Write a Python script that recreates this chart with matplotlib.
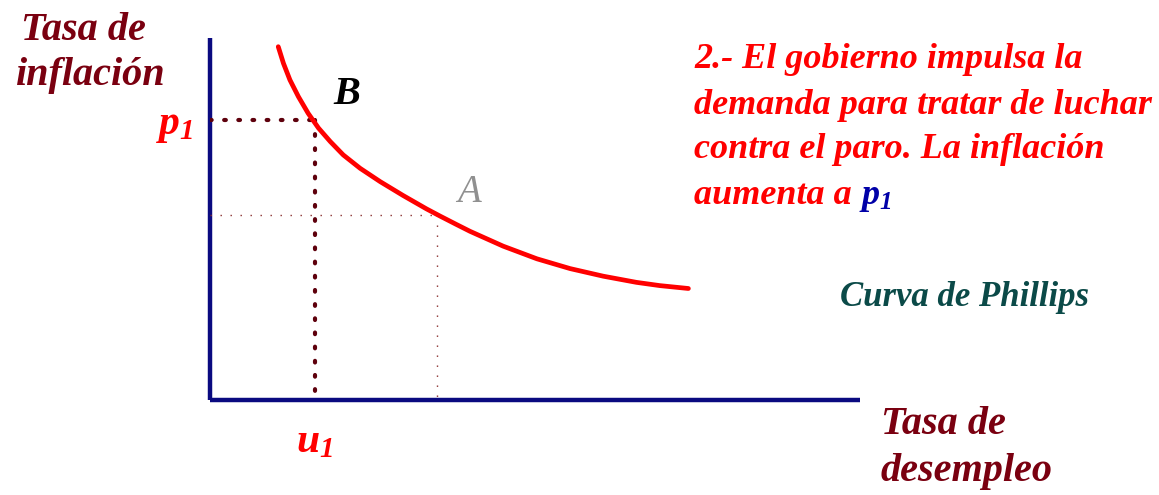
import matplotlib.pyplot as plt

plt.rcParams['font.family'] = ['Liberation Serif', 'DejaVu Serif']
plt.rcParams['mathtext.fontset'] = 'custom'
plt.rcParams['mathtext.it'] = 'Liberation Serif:italic:bold'
plt.rcParams['mathtext.rm'] = 'Liberation Serif:italic:bold'

# Phillips curve (x = unemployment, y = inflation, 0-100 scale)
desempleo = [10.5, 11.3, 12.3, 13.6, 15.1, 16.7, 18.5, 20.5, 23.1, 26.2, 29.7,
             33.3, 35.4, 37.9, 40.0, 45.1, 50.3, 55.4, 60.5, 65.6, 69.2, 73.6]
inflacion = [97.6, 93.0, 88.4, 83.8, 79.2, 75.1, 71.4, 67.7, 64.0, 60.3, 56.5,
             52.8, 50.8, 48.5, 46.6, 42.5, 39.0, 36.3, 34.2, 32.5, 31.6, 30.8]

punto_a = (34.9, 51.2)
punto_b = (16.2, 77.3)

W, H = 1159, 495
fig = plt.figure(figsize=(W / 100, H / 100), dpi=100)
ax = fig.add_axes([210 / W, 1 - 400 / H, 650 / W, 362 / H])
ax.set_xlim(0, 100)
ax.set_ylim(0, 100)
ax.axis('off')

navy = '#0a0a80'
ax.plot([0, 0], [0, 100], color=navy, lw=3.2, solid_capstyle='butt', clip_on=False)
ax.plot([0, 100], [0, 0], color=navy, lw=3.2, solid_capstyle='butt', clip_on=False)

# dotted guide lines
gruesa = dict(color='#5e000c', lw=3.0, linestyle=(0, (0.4, 3.0)), dash_capstyle='round')
fina = dict(color='#8a3030', lw=1.0, linestyle=(0, (1, 6.2)))
ax.plot([0, punto_b[0]], [punto_b[1], punto_b[1]], **gruesa)
ax.plot([punto_b[0], punto_b[0]], [punto_b[1], 0], **gruesa)
ax.plot([0, punto_a[0]], [punto_a[1], punto_a[1]], **fina)
ax.plot([punto_a[0], punto_a[0]], [punto_a[1], 0], **fina)

ax.plot(desempleo, inflacion, color='#ff0000', lw=3.4, solid_capstyle='round',
        solid_joinstyle='round')


def px(x, y, s, **kw):
    fig.text(x / W, 1 - y / H, s, **kw)


dark_red = '#7a0010'
bi = dict(fontweight='bold', fontstyle='italic')
px(83, 30, 'Tasa de', color=dark_red, ha='center', va='center', fontsize=29, **bi)
px(91, 76, 'inflación', color=dark_red, ha='center', va='center', fontsize=29, **bi)
px(943, 425, 'Tasa de', color=dark_red, ha='center', va='center', fontsize=29, **bi)
px(967, 472, 'desempleo', color=dark_red, ha='center', va='center', fontsize=29, **bi)

px(193, 126, r'$p_1$', color='#ff0000', ha='right', va='center', fontsize=30)
px(314, 442, r'$u_1$', color='#ff0000', ha='center', va='center', fontsize=30)
px(347, 95, 'B', color='black', ha='center', va='center', fontsize=29, **bi)
px(469, 192, 'A', color='#909090', ha='center', va='center', fontsize=28, fontstyle='italic')

nota = ['2.- El gobierno impulsa la',
        'demanda para tratar de luchar',
        'contra el paro. La inflación',
        'aumenta a']
for i, linea in enumerate(nota):
    px(694, 60 + 45 * i, linea, color='#ff0000', ha='left', va='center', fontsize=26, **bi)
px(859, 198, r'$p_1$', color='#0000a8', ha='left', va='center', fontsize=26)

px(965, 297, 'Curva de Phillips', color='#0b4a48', ha='center', va='center',
   fontsize=25, **bi)

fig.savefig('out.png', dpi=100)
